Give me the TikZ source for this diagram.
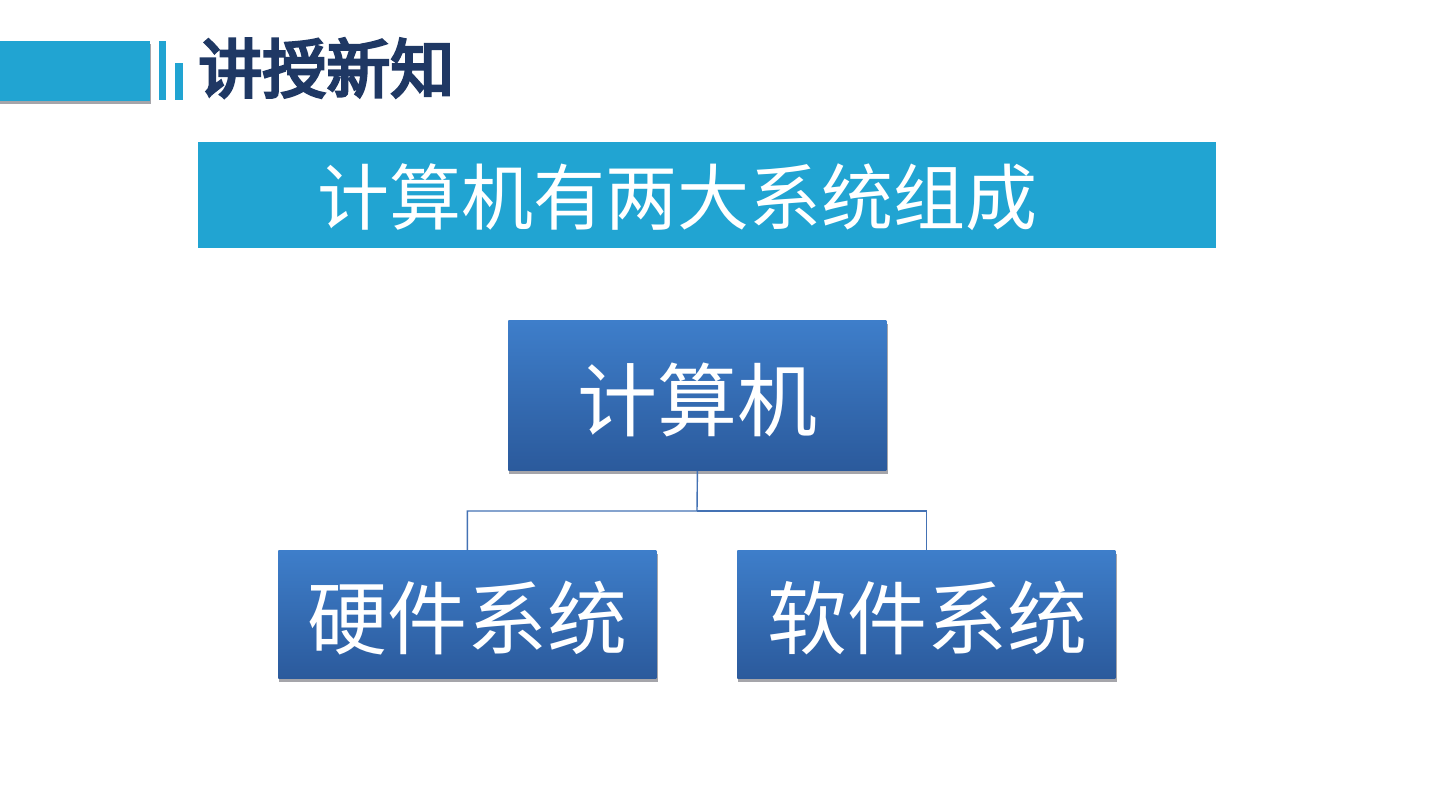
\documentclass[tikz,border=0pt]{standalone}
\usepackage{fontspec}
\newfontfamily\cjk{Noto Sans CJK SC}
\newfontfamily\cjkbold{Noto Sans CJK SC}[FakeBold=4.5]
\definecolor{cyanbar}{RGB}{33,164,210}
\definecolor{navy}{RGB}{31,56,100}
\definecolor{boxtop}{RGB}{62,126,202}
\definecolor{boxbot}{RGB}{43,90,156}
\definecolor{shadowgrey}{RGB}{165,165,170}
\definecolor{conn}{RGB}{68,114,180}
\tikzset{
  bluebox/.style={minimum width=189pt, inner sep=0pt, top color=boxtop, bottom color=boxbot, text=white, font=\cjk\fontsize{40pt}{44pt}\selectfont},
  shadowbox/.style={fill=shadowgrey, draw=none},
  link/.style={draw=conn, line width=0.7pt}
}
\begin{document}
\begin{tikzpicture}[x=0.5pt,y=-0.5pt]
\useasboundingbox (0,0) rectangle (1440,810);
\fill[white] (0,0) rectangle (1440,810);
% header bars
\fill[shadowgrey] (0,44) rectangle (151,104);
\fill[cyanbar] (0,41) rectangle (150,101);
\fill[cyanbar] (159,41) rectangle (166,100);
\fill[cyanbar] (175,63) rectangle (183,100);
\node[anchor=west, text=navy, inner sep=0pt, font=\cjkbold\fontsize{32pt}{35pt}\selectfont] (title) at (198,68) {讲授新知};
% banner
\node[fill=cyanbar, minimum width=509pt, minimum height=53pt, inner sep=0pt, anchor=north west] (banner) at (198,142) {};
\node[text=white, inner sep=0pt, font=\cjk\fontsize{36pt}{40pt}\selectfont] (bannertext) at (677,197) {计算机有两大系统组成};
% boxes with shadows
\fill[shadowbox] (509,324) rectangle (888,474);
\node[bluebox, minimum height=75pt, anchor=north west] (comp) at (508,320) {};
\node[text=white, inner sep=0pt, font=\cjk\fontsize{40pt}{44pt}\selectfont] (comptext) at (697,400) {计算机};
\fill[shadowbox] (279,554) rectangle (658,682);
\node[bluebox, minimum height=64pt, anchor=north west] (hw) at (278,550) {};
\node[text=white, inner sep=0pt, font=\cjk\fontsize{40pt}{44pt}\selectfont] (hwtext) at (467,618) {硬件系统};
\fill[shadowbox] (738,554) rectangle (1117,682);
\node[bluebox, minimum height=64pt, anchor=north west] (sw) at (737,550) {};
\node[text=white, inner sep=0pt, font=\cjk\fontsize{40pt}{44pt}\selectfont] (swtext) at (927,618) {软件系统};
% connectors
\coordinate (mid) at (697,511);
\draw[link] (comp.south) -- (mid) -| (hw.north);
\draw[link] (mid) -| (sw.north);
\end{tikzpicture}
\end{document}
